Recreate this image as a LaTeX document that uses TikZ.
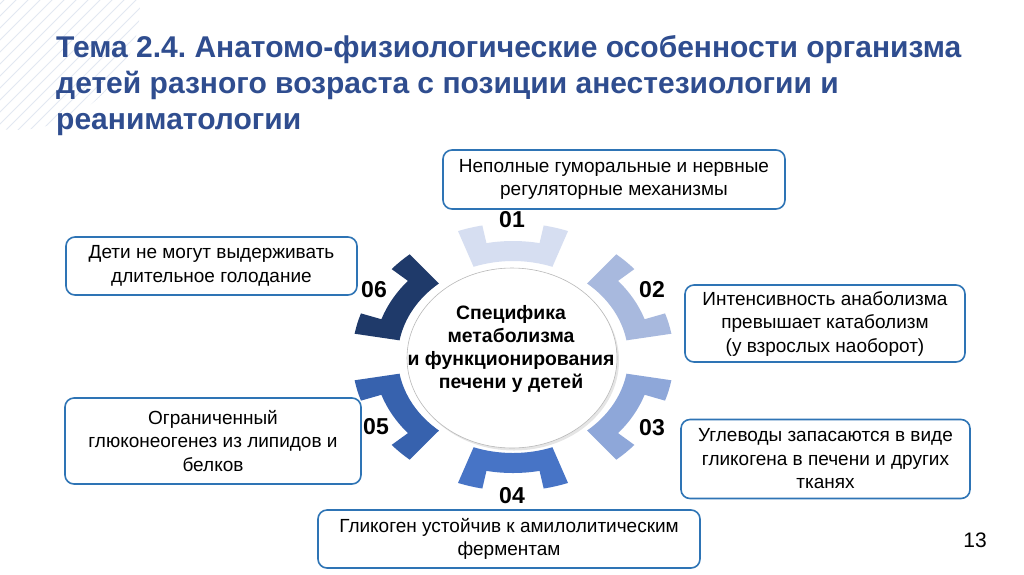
\documentclass[tikz,border=0pt]{standalone}
\usepackage{fontspec}
\setmainfont{Liberation Sans}
\usetikzlibrary{shapes.geometric,shadows}
\definecolor{titleblue}{HTML}{2F4D8F}
\definecolor{boxblue}{HTML}{2E74B5}
\definecolor{hatchcol}{HTML}{E2E8F2}
\definecolor{segA}{HTML}{D6DEF1}
\definecolor{segB}{HTML}{A8B9DE}
\definecolor{segC}{HTML}{8EA7D9}
\definecolor{segD}{HTML}{4774C6}
\definecolor{segE}{HTML}{3762AE}
\definecolor{segF}{HTML}{1F3A6A}
\newcommand{\gearseg}[2]{%
  \fill[#2] ({#1+20}:96) -- ({#1+20}:134)
    arc[start angle={#1+20}, end angle={#1+11}, radius=134]
    -- ({#1+11}:116)
    arc[start angle={#1+11}, end angle={#1-11}, radius=116]
    -- ({#1-11}:134)
    arc[start angle={#1-11}, end angle={#1-20}, radius=134]
    -- ({#1-20}:96)
    arc[start angle={#1-20}, end angle={#1+20}, radius=96] -- cycle;}
\frenchspacing
\begin{document}
\begin{tikzpicture}[x=1pt,y=1pt,
  infobox/.style={draw=boxblue, line width=1.6pt, rounded corners=9pt, fill=white,
    align=center, inner sep=0pt, font=\fontsize{19}{23.5}\selectfont},
  numlabel/.style={inner sep=0pt, font=\bfseries\fontsize{23}{26}\selectfont},
  titleline/.style={anchor=base west, inner sep=0pt, text=titleblue,
    font=\bfseries\fontsize{30}{34}\selectfont}]
\useasboundingbox (0,0) rectangle (1024,-574);
\fill[white] (0,0) rectangle (1024,-574);
% faint hatched circle
\begin{scope}
  \clip (15,-5) circle (125);
  \foreach \i in {-400,-388,...,200}
    \draw[hatchcol, line width=0.9pt] (\i,-200) -- (\i+240,40);
\end{scope}
% title
\node[titleline] (t1) at (56,-57) {Тема 2.4. Анатомо-физиологические особенности организма};
\node[titleline] (t2) at (56,-93) {детей разного возраста с позиции анестезиологии и};
\node[titleline] (t3) at (56,-129.5) {реаниматологии};
% gear
\begin{scope}[shift={(513,-357)}, xscale=1.2]
  \gearseg{90}{segA}
  \gearseg{30}{segB}
  \gearseg{-30}{segC}
  \gearseg{-90}{segD}
  \gearseg{-150}{segE}
  \gearseg{150}{segF}
\end{scope}
\node[ellipse, draw=gray!55, line width=0.6pt, fill=white, minimum width=210, minimum height=180,
  drop shadow={shadow xshift=2pt, shadow yshift=-2.5pt, opacity=0.2, fill=gray}] (hub) at (512,-358) {};
\node[align=center, inner sep=0pt, font=\bfseries\fontsize{19.4}{23.3}\selectfont] (hubtext) at (511,-349)
  {Специфика\\метаболизма\\и функционирования\\печени у детей};
% numbers
\node[numlabel] (n1) at (512,-219.5) {01};
\node[numlabel] (n2) at (652,-290) {02};
\node[numlabel] (n3) at (652,-428) {03};
\node[numlabel] (n4) at (512,-496) {04};
\node[numlabel] (n5) at (376,-427) {05};
\node[numlabel] (n6) at (374,-290) {06};
% boxes
\node[infobox, minimum width=342, minimum height=59] (b1) at (614,-179.5)
  {Неполные гуморальные и нервные\\регуляторные механизмы};
\node[infobox, minimum width=291, minimum height=58] (b6) at (211.5,-266)
  {Дети не могут выдерживать\\длительное голодание};
\node[infobox, minimum width=280, minimum height=77] (b2) at (825,-323.5)
  {Интенсивность анаболизма\\превышает катаболизм\\(у взрослых наоборот)};
\node[infobox, minimum width=296, minimum height=86] (b5) at (213,-441)
  {Ограниченный\\глюконеогенез из липидов и\\белков};
\node[infobox, minimum width=289, minimum height=79] (b3) at (825.5,-459)
  {Углеводы запасаются в виде\\гликогена в печени и других\\тканях};
\node[infobox, minimum width=382, minimum height=58] (b4) at (509,-539)
  {Гликоген устойчив к амилолитическим\\ферментам};
% page number
\node[inner sep=0pt, font=\fontsize{21}{24}\selectfont] (pg) at (975,-540) {13};
\end{tikzpicture}
\end{document}
